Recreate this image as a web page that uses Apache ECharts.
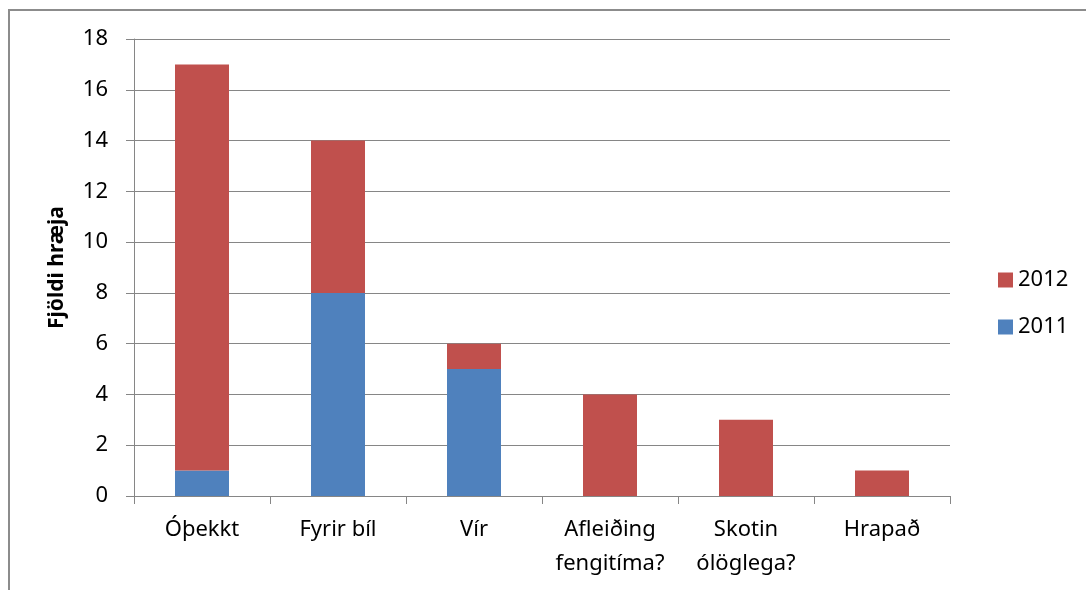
<!DOCTYPE html>
<html>
<head>
<meta charset="utf-8">
<script src="https://cdn.jsdelivr.net/npm/echarts@6/dist/echarts.min.js"></script>
<style>
  html, body { margin: 0; padding: 0; background: #fff; }
  #main { width: 1086px; height: 590px; }
</style>
</head>
<body>
<div id="main"></div>
<script>
// flokkar og gildi lesin af myndinni
const categories = ['Óþekkt', 'Fyrir bíl', 'Vír', 'Afleiðing\nfengitíma?', 'Skotin\nólöglega?', 'Hrapað'];
const values2011 = [1, 8, 5, 0, 0, 0];
const values2012 = [16, 6, 1, 4, 3, 1];
const yTicks = [0, 2, 4, 6, 8, 10, 12, 14, 16, 18];

const axisGrey = '#868686';
const font = 'Noto Sans';

let myChart = echarts.init(document.getElementById('main'));

let option = {
  animation: false,
  textStyle: { fontFamily: font },
  graphic: [
    {
      type: 'polyline',
      shape: { points: [[9, 590], [9, 10], [1086, 10]] },
      style: { stroke: '#8c8c8c', lineWidth: 2, fill: null },
      silent: true
    }
  ],
  grid: { left: 134, right: 136, top: 39, bottom: 94 },
  legend: {
    data: ['2012', '2011'],
    orient: 'vertical',
    left: 993,
    top: 264,
    icon: 'rect',
    itemWidth: 15,
    itemHeight: 15,
    itemGap: 25,
    textStyle: { fontFamily: font, fontSize: 22, color: '#000' }
  },
  xAxis: {
    type: 'category',
    data: categories,
    axisLine: { lineStyle: { color: axisGrey, width: 1 } },
    axisTick: { show: true, length: 8, lineStyle: { color: axisGrey } },
    axisLabel: { color: '#000', fontSize: 22, margin: 17, lineHeight: 34, interval: 0 }
  },
  yAxis: {
    type: 'value',
    min: yTicks[0],
    max: yTicks[yTicks.length - 1],
    interval: 2,
    name: 'Fjöldi hræja',
    nameLocation: 'middle',
    nameGap: 66,
    nameTextStyle: { fontFamily: font, fontSize: 21, fontWeight: 'bold', color: '#000' },
    axisLine: { show: true, lineStyle: { color: axisGrey, width: 1 } },
    axisTick: { show: true, length: 8, lineStyle: { color: axisGrey } },
    axisLabel: { color: '#000', fontSize: 22, margin: 26 },
    splitLine: { lineStyle: { color: axisGrey, width: 1 } }
  },
  series: [
    {
      name: '2011',
      type: 'bar',
      stack: 'total',
      barWidth: 54,
      data: values2011,
      itemStyle: { color: '#4F81BD' }
    },
    {
      name: '2012',
      type: 'bar',
      stack: 'total',
      barWidth: 54,
      data: values2012,
      itemStyle: { color: '#C0504D' }
    }
  ]
};

myChart.setOption(option);
</script>
</body>
</html>
